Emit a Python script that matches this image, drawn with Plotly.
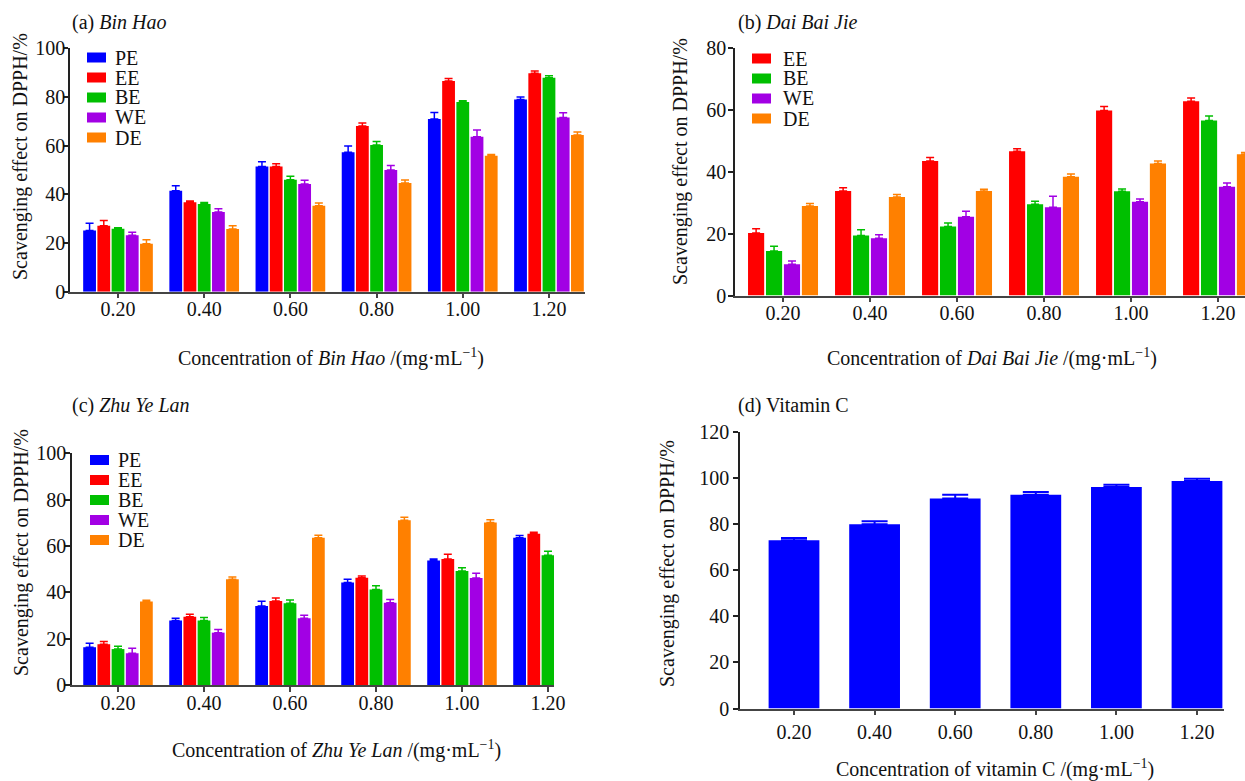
import plotly.graph_objects as go

# ---------------- data ----------------
categories = ["0.20", "0.40", "0.60", "0.80", "1.00", "1.20"]

# (a) Bin Hao
a_names = ["PE", "EE", "BE", "WE", "DE"]
a_PE = [25.1, 41.5, 51.4, 57.3, 71.0, 79.0]
a_EE = [27.1, 36.8, 51.4, 68.1, 86.6, 89.7]
a_BE = [25.9, 36.0, 46.0, 60.3, 77.9, 87.9]
a_WE = [23.2, 32.7, 44.2, 50.0, 63.7, 71.6]
a_DE = [19.7, 25.8, 35.3, 44.7, 55.9, 64.4]
a_PE_err = [3.0, 2.0, 2.0, 2.6, 2.6, 1.0]
a_EE_err = [2.2, 0.5, 1.2, 1.2, 1.0, 1.0]
a_BE_err = [0.4, 0.6, 1.4, 1.4, 0.5, 0.8]
a_WE_err = [1.2, 1.4, 1.6, 1.8, 2.7, 1.9]
a_DE_err = [1.6, 1.3, 1.1, 1.2, 0.5, 1.2]

# (b) Dai Bai Jie
b_names = ["EE", "BE", "WE", "DE"]
b_EE = [20.2, 33.8, 43.5, 46.7, 59.9, 62.9]
b_BE = [14.4, 19.4, 22.3, 29.5, 33.7, 56.6]
b_WE = [10.1, 18.5, 25.5, 28.6, 30.3, 35.2]
b_DE = [29.0, 31.9, 33.8, 38.4, 42.7, 45.7]
b_EE_err = [1.4, 1.1, 1.2, 0.8, 1.3, 1.0]
b_BE_err = [1.5, 1.9, 1.2, 1.0, 0.8, 1.5]
b_WE_err = [1.1, 1.2, 1.8, 3.5, 0.9, 1.2]
b_DE_err = [0.8, 0.8, 0.6, 0.9, 0.8, 0.6]

# (c) Zhu Ye Lan (WE, DE at 1.20 not visible in the figure)
c_names = ["PE", "EE", "BE", "WE", "DE"]
c_PE = [16.3, 27.8, 34.1, 44.2, 53.7, 63.6]
c_EE = [17.6, 29.5, 36.3, 46.3, 54.4, 65.3]
c_BE = [15.5, 27.8, 35.3, 41.2, 49.2, 56.0]
c_WE = [13.7, 22.6, 28.8, 35.5, 46.2, None]
c_DE = [36.0, 45.6, 63.6, 71.1, 70.1, None]
c_PE_err = [1.7, 1.0, 2.0, 1.4, 0.7, 0.9]
c_EE_err = [1.2, 1.0, 1.3, 0.7, 2.0, 0.6]
c_BE_err = [1.2, 1.3, 1.4, 1.6, 1.4, 1.7]
c_WE_err = [2.2, 1.4, 1.3, 1.4, 2.0, None]
c_DE_err = [0.6, 1.0, 1.0, 1.3, 1.2, None]

# (d) Vitamin C
d_VC = [73.0, 80.0, 91.1, 92.8, 96.1, 98.7]
d_VC_err = [1.0, 1.3, 1.7, 1.2, 1.0, 1.0]

colors = {"PE": "#0000FF", "EE": "#FF0000", "BE": "#00BF00",
          "WE": "#A200E4", "DE": "#FF8000"}

FONT = "Liberation Serif, Times New Roman, serif"
W, H = 1245, 781


def px(x):
    return x / W


def py(y):
    return 1 - y / H


fig = go.Figure()


def add_bars(names, values, errs, xa, ya, capw=4):
    for n, v, e in zip(names, values, errs):
        fig.add_trace(go.Bar(
            x=categories, y=v, name=n, xaxis=xa, yaxis=ya,
            marker=dict(color=colors[n], line=dict(width=0)),
            error_y=dict(type="data", symmetric=False, array=e,
                         arrayminus=[0] * len(e), color=colors[n],
                         thickness=1.5, width=capw, visible=True),
            showlegend=False,
        ))


add_bars(a_names, [a_PE, a_EE, a_BE, a_WE, a_DE],
         [a_PE_err, a_EE_err, a_BE_err, a_WE_err, a_DE_err], "x", "y")
add_bars(b_names, [b_EE, b_BE, b_WE, b_DE],
         [b_EE_err, b_BE_err, b_WE_err, b_DE_err], "x2", "y2")
add_bars(c_names, [c_PE, c_EE, c_BE, c_WE, c_DE],
         [c_PE_err, c_EE_err, c_BE_err, c_WE_err, c_DE_err], "x3", "y3")

fig.add_trace(go.Bar(
    x=categories, y=d_VC, name="Vitamin C", xaxis="x4", yaxis="y4",
    width=0.63, marker=dict(color="#0000FF", line=dict(width=0)),
    error_y=dict(type="data", symmetric=False, array=d_VC_err,
                 arrayminus=[0] * len(d_VC_err), color="#0000FF",
                 thickness=2, width=13),
    showlegend=False,
))

tickfont = dict(family=FONT, size=20, color="#111")


def xax(dom, rng, anchor, standoff=0):
    return dict(domain=dom, range=rng, anchor=anchor, type="category",
                showline=True, linecolor="#444", linewidth=1.5,
                ticks="outside", ticklen=5, tickwidth=1.5, tickcolor="#444",
                tickfont=tickfont, showgrid=False, zeroline=False,
                ticklabelstandoff=standoff,
                automargin=False, fixedrange=True)


def yax(dom, rng, dtick, anchor, standoff=0):
    return dict(domain=dom, range=rng, anchor=anchor, dtick=dtick,
                showline=True, linecolor="#222", linewidth=1.5,
                ticks="outside", ticklen=5, tickwidth=1.5, tickcolor="#222",
                tickfont=tickfont, showgrid=False, zeroline=False,
                ticklabelstandoff=standoff,
                automargin=False, fixedrange=True)


fig.update_layout(
    width=W, height=H,
    margin=dict(l=0, r=0, t=0, b=0, pad=0, autoexpand=False),
    paper_bgcolor="white", plot_bgcolor="white",
    barmode="group", bargap=0.175, bargroupgap=0.1,
    font=dict(family=FONT, size=20, color="#111"),
    xaxis=xax([px(70), px(585)], [-0.557, 5.418], "y", -6),
    yaxis=yax([py(291.7), py(48.3)], [0, 100], 20, "x", -6),
    xaxis2=xax([px(735), 1.0], [-0.552, 5.31], "y2", -6),
    yaxis2=yax([py(295.5), py(48.3)], [0, 80], 20, "x2", -2),
    xaxis3=xax([px(72), px(554)], [-0.535, 5.07], "y3", -6),
    yaxis3=yax([py(685), py(453.3)], [0, 100], 20, "x3", -5),
    xaxis4=xax([px(740), px(1224)], [-0.67, 5.335], "y4", 0),
    yaxis4=yax([py(708.5), py(432)], [0, 120], 20, "x4", 0),
)

annotations = []
shapes = []


def text(t, x, y, xanchor="left", angle=0):
    annotations.append(dict(text=t, x=px(x), y=py(y), xref="paper",
                            yref="paper", xanchor=xanchor, yanchor="middle",
                            showarrow=False, textangle=angle,
                            font=dict(family=FONT, size=20, color="#111")))


# panel titles
text("(a) <i>Bin Hao</i>", 70, 23)
text("(b) <i>Dai Bai Jie</i>", 736, 23)
text("(c) <i>Zhu Ye Lan</i>", 70, 405)
text("(d) Vitamin C", 736, 405)

# axis titles
ytitle = "Scavenging effect on DPPH/%"
text(ytitle, 21, 157, "center", -90)
text(ytitle, 681, 162, "center", -90)
text(ytitle, 21, 553, "center", -90)
text(ytitle, 667, 564, "center", -90)

unit = " /(mg·mL<sup>−1</sup>)"
text("Concentration of <i>Bin Hao</i>" + unit, 331, 357, "center")
text("Concentration of <i>Dai Bai Jie</i>" + unit, 992, 357, "center")
text("Concentration of <i>Zhu Ye Lan</i>" + unit, 336, 749, "center")
text("Concentration of vitamin C" + unit, 995, 768, "center")


def legend(names, x_sw, x_txt, y0, step=20):
    for i, n in enumerate(names):
        yc = y0 + i * step
        shapes.append(dict(type="rect", xref="paper", yref="paper",
                           x0=px(x_sw), x1=px(x_sw + 19),
                           y0=py(yc + 5), y1=py(yc - 5),
                           fillcolor=colors[n], line=dict(width=0)))
        text(n, x_txt, yc)


legend(a_names, 87, 113, 57.5)
legend(b_names, 752, 781, 58.5)
legend(c_names, 90, 116, 460)

fig.update_layout(annotations=annotations, shapes=shapes)

fig.write_html(
    "out.html",
    config={"displayModeBar": False},
    post_script="document.body.style.margin='0px';"
                "document.body.style.overflow='hidden';",
)
